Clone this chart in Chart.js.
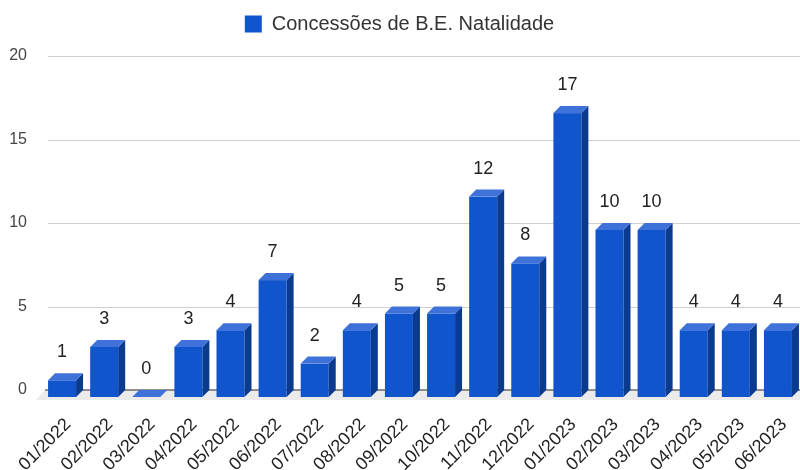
<!DOCTYPE html>
<html>
<head>
<meta charset="utf-8">
<script src="https://cdn.jsdelivr.net/npm/chart.js@4.4.1/dist/chart.umd.min.js"></script>
<style>
  html, body { margin: 0; padding: 0; background: #fff; }
</style>
</head>
<body>
<canvas id="chart" width="800" height="470"></canvas>
<script>
// Data
const months = ['01/2022', '02/2022', '03/2022', '04/2022', '05/2022', '06/2022',
                '07/2022', '08/2022', '09/2022', '10/2022', '11/2022', '12/2022',
                '01/2023', '02/2023', '03/2023', '04/2023', '05/2023', '06/2023'];
const grants = [1, 3, 0, 3, 4, 7, 2, 4, 5, 5, 12, 8, 17, 10, 10, 4, 4, 4];
const yTicks = [0, 5, 10, 15, 20];
const seriesLabel = 'Concessões de B.E. Natalidade';

const FRONT = '#1155cc';
const TOP = '#3f72d9';
const SIDE = '#0b3b8f';
const DEPTH = 7; // 3d offset in px

Chart.defaults.font.family = '"Liberation Sans", Arial, sans-serif';

// draws the back wall grid, the floor and the bars as boxes
const bars3d = {
    id: 'bars3d',
    beforeDatasetsDraw(chart) {
        const { ctx, chartArea, scales } = chart;
        const y = scales.y;
        const y0 = y.getPixelForValue(0);
        ctx.save();
        ctx.lineWidth = 1;
        ctx.strokeStyle = '#cfcfcf';
        yTicks.forEach(v => {
            if (v === 0) return;
            const py = Math.round(y.getPixelForValue(v)) + 0.5;
            ctx.beginPath();
            ctx.moveTo(chartArea.left + DEPTH, py);
            ctx.lineTo(chart.width, py);
            ctx.stroke();
        });
        // floor
        ctx.fillStyle = '#ebebeb';
        ctx.beginPath();
        ctx.moveTo(chartArea.left + 4, y0);
        ctx.lineTo(chart.width, y0);
        ctx.lineTo(chart.width, y0 + 10);
        ctx.lineTo(chartArea.left - 5, y0 + 10);
        ctx.closePath();
        ctx.fill();
        // zero line
        ctx.strokeStyle = '#6b6b6b';
        ctx.lineWidth = 1.5;
        ctx.beginPath();
        ctx.moveTo(chartArea.left + 4, y0);
        ctx.lineTo(chart.width, y0);
        ctx.stroke();
        ctx.restore();
    },
    beforeDatasetDraw(chart, args) {
        const { ctx } = chart;
        const meta = chart.getDatasetMeta(args.index);
        ctx.save();
        meta.data.forEach(el => {
            const w = el.width;
            const x0 = el.x - w / 2;
            const x1 = el.x + w / 2;
            const yt = el.y + DEPTH;
            const yb = el.base + DEPTH;
            if (yb - yt > 0.5) {
                ctx.fillStyle = FRONT;
                ctx.fillRect(x0, yt, w, yb - yt);
                ctx.fillStyle = SIDE;
                ctx.beginPath();
                ctx.moveTo(x1, yt);
                ctx.lineTo(x1 + DEPTH, yt - DEPTH);
                ctx.lineTo(x1 + DEPTH, yb - DEPTH);
                ctx.lineTo(x1, yb);
                ctx.closePath();
                ctx.fill();
            }
            ctx.fillStyle = TOP;
            ctx.beginPath();
            ctx.moveTo(x0, yt);
            ctx.lineTo(x0 + DEPTH, yt - DEPTH);
            ctx.lineTo(x1 + DEPTH, yt - DEPTH);
            ctx.lineTo(x1, yt);
            ctx.closePath();
            ctx.fill();
        });
        ctx.restore();
        return false;
    },
    afterDatasetsDraw(chart) {
        const { ctx } = chart;
        const meta = chart.getDatasetMeta(0);
        ctx.save();
        ctx.fillStyle = '#222';
        ctx.font = '18px "Liberation Sans", Arial, sans-serif';
        ctx.textAlign = 'center';
        ctx.textBaseline = 'alphabetic';
        meta.data.forEach((el, i) => {
            ctx.fillText(String(grants[i]), el.x, el.y - 16);
        });
        ctx.restore();
    }
};

new Chart(document.getElementById('chart'), {
    type: 'bar',
    data: {
        labels: months,
        datasets: [{
            label: seriesLabel,
            data: grants,
            backgroundColor: FRONT,
            borderWidth: 0,
            categoryPercentage: 1,
            barPercentage: 0.665
        }]
    },
    options: {
        responsive: false,
        animation: false,
        layout: { padding: { left: 0, right: 1, top: 4, bottom: 0 } },
        scales: {
            x: {
                grid: { display: false, drawTicks: false },
                border: { display: false },
                ticks: {
                    autoSkip: false,
                    maxRotation: 45,
                    minRotation: 45,
                    padding: 24,
                    labelOffset: 6,
                    color: '#222',
                    font: { size: 18 }
                },
                afterFit: s => {
                    s.height = 80;
                    s.paddingLeft = 0;
                    s.paddingRight = 0;
                }
            },
            y: {
                min: 0,
                max: 20,
                grid: { display: false, drawTicks: false },
                border: { display: false },
                ticks: {
                    stepSize: 5,
                    padding: 14,
                    color: '#444',
                    font: { size: 16 }
                },
                afterFit: s => {
                    s.width = 41;
                    s.paddingTop = 0;
                    s.paddingBottom = 0;
                }
            }
        },
        plugins: {
            legend: {
                position: 'top',
                labels: {
                    boxWidth: 17,
                    boxHeight: 17,
                    padding: 10,
                    color: '#333',
                    font: { size: 20 }
                }
            },
            // empty title used as a spacer between legend and plot
            title: {
                display: true,
                text: '',
                weight: 500,
                font: { size: 1 },
                padding: { top: 0, bottom: 10.8 }
            },
            tooltip: { enabled: false }
        }
    },
    plugins: [bars3d]
});
</script>
</body>
</html>
